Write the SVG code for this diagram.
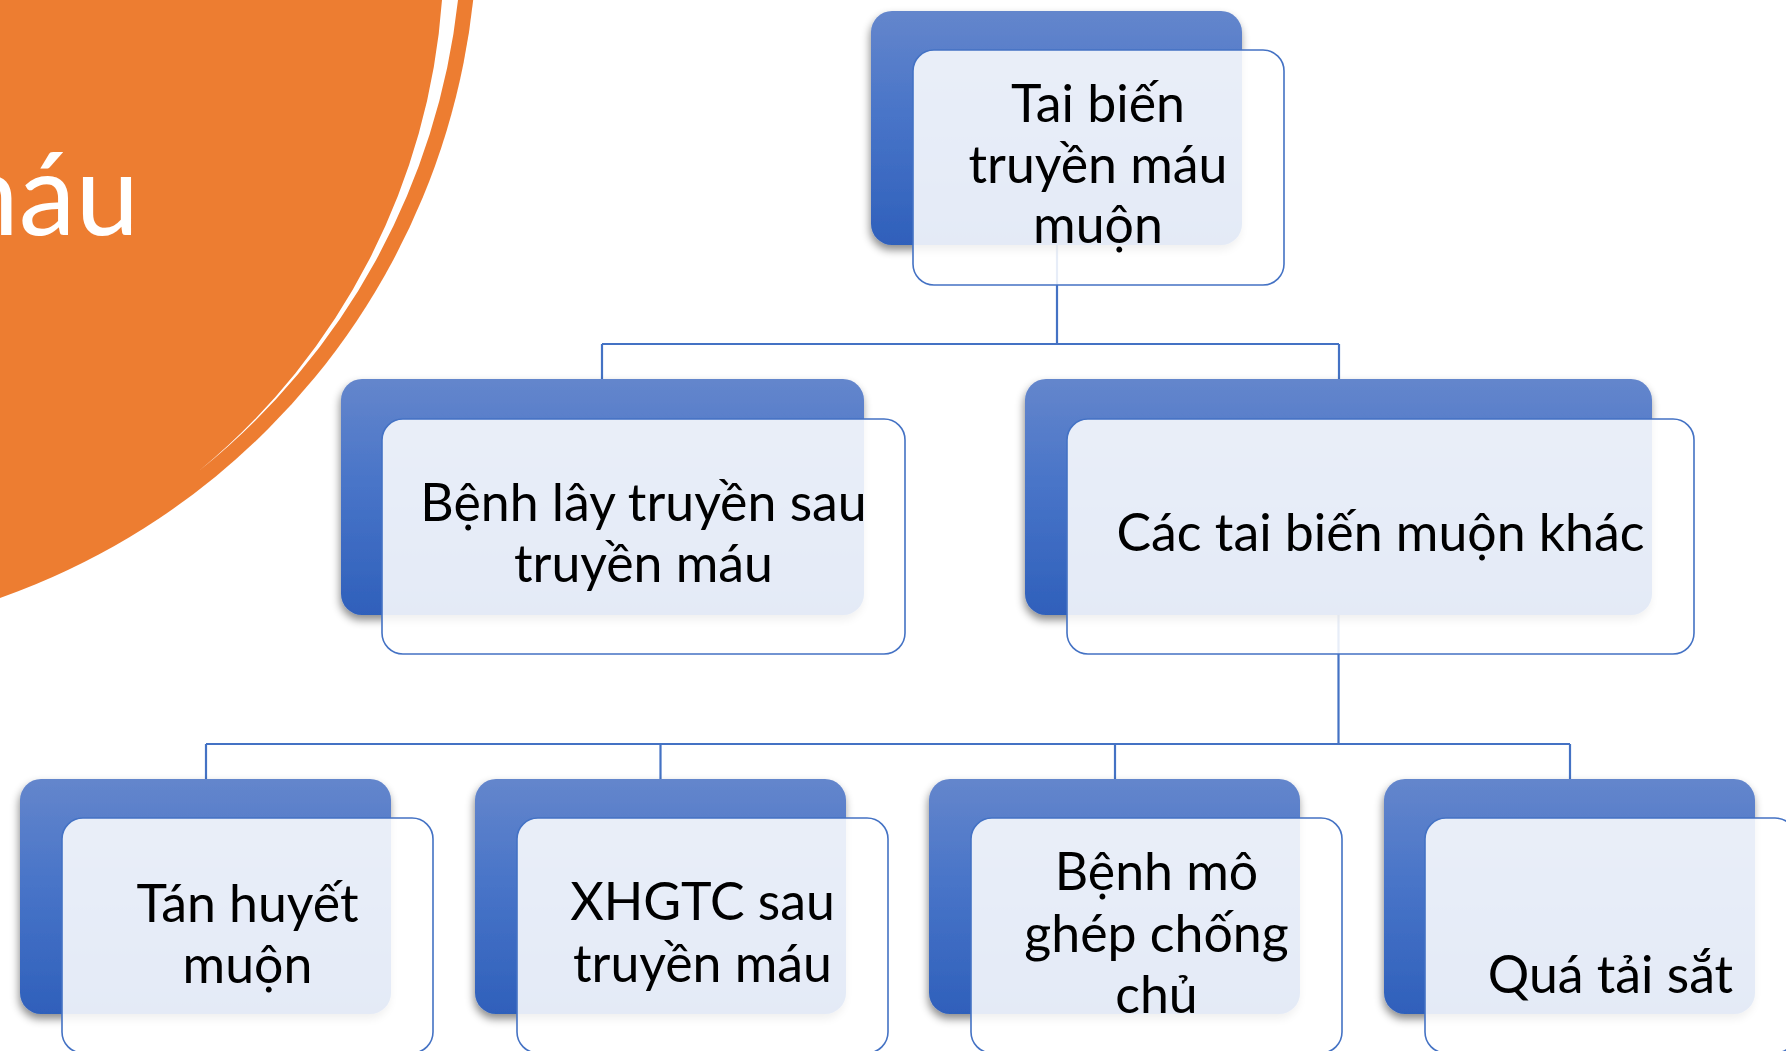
<svg xmlns="http://www.w3.org/2000/svg" width="1786" height="1051" viewBox="0 0 1786 1051">
<defs>
<linearGradient id="blueGrad" x1="0" y1="0" x2="0" y2="1">
<stop offset="0" stop-color="#6486CC"/>
<stop offset="0.45" stop-color="#4874C8"/>
<stop offset="1" stop-color="#2F60BB"/>
</linearGradient>
<filter id="shadow" x="-10%" y="-10%" width="120%" height="125%">
<feDropShadow dx="-1" dy="5" stdDeviation="4" flood-color="#000" flood-opacity="0.45"/>
</filter>
</defs>
<style>
.back{fill:url(#blueGrad);filter:url(#shadow);}
.front{fill:#FFFFFF;fill-opacity:0.87;stroke:#4472C4;stroke-width:1.6;}
.lbl{font-family:Lato,"Open Sans","Liberation Sans",sans-serif;font-size:51.8px;fill:#000;text-anchor:middle;}
.conn{fill:none;stroke:#4472C4;stroke-width:2.2;}
.title{font-family:Lato,"Open Sans","Liberation Sans",sans-serif;font-size:114px;fill:#FFFFFF;text-anchor:end;}
</style>
<rect width="1786" height="1051" fill="#FFFFFF"/>
<g id="background">
<circle cx="-238" cy="-76.5" r="715.3" fill="#ED7D31"/>
<path d="M458,0 A701,701 0 0 1 200,470 A672,672 0 0 0 442,0 Z" fill="#FFFFFF"/>
<text class="title" x="139" y="235">máu</text>
</g>
<g id="connectors">
<path class="conn" d="M1057,245 V344 M602,344 H1339 M602,344 V379 M1339,344 V379"/>
<path class="conn" d="M1338.5,615 V744 M206,744 H1570 M206,744 V779 M660.5,744 V779 M1115,744 V779 M1570,744 V779"/>
</g>
<g id="node-root">
<rect class="back" x="871" y="11" width="371" height="234" rx="21"/>
<rect class="front" x="913" y="50" width="371" height="235" rx="21"/>
<text class="lbl" x="1098" y="122">Tai biến</text>
<text class="lbl" x="1098" y="183">truyền máu</text>
<text class="lbl" x="1098" y="243">muộn</text>
</g>
<g id="node-benh-lay">
<rect class="back" x="341" y="379" width="523" height="236" rx="21"/>
<rect class="front" x="382" y="419" width="523" height="235" rx="21"/>
<text class="lbl" x="643.5" y="521">Bệnh lây truyền sau</text>
<text class="lbl" x="643.5" y="582">truyền máu</text>
</g>
<g id="node-cac-tai-bien">
<rect class="back" x="1025" y="379" width="627" height="236" rx="21"/>
<rect class="front" x="1067" y="419" width="627" height="235" rx="21"/>
<text class="lbl" x="1380.5" y="551">Các tai biến muộn khác</text>
</g>
<g id="node-tan-huyet">
<rect class="back" x="20" y="779" width="371" height="235" rx="21"/>
<rect class="front" x="62" y="818" width="371" height="235" rx="21"/>
<text class="lbl" x="247.5" y="922">Tán huyết</text>
<text class="lbl" x="247.5" y="983">muộn</text>
</g>
<g id="node-xhgtc">
<rect class="back" x="475" y="779" width="371" height="235" rx="21"/>
<rect class="front" x="517" y="818" width="371" height="235" rx="21"/>
<text class="lbl" x="702.5" y="920">XHGTC sau</text>
<text class="lbl" x="702.5" y="982">truyền máu</text>
</g>
<g id="node-benh-mo-ghep">
<rect class="back" x="929" y="779" width="371" height="235" rx="21"/>
<rect class="front" x="971" y="818" width="371" height="235" rx="21"/>
<text class="lbl" x="1156.5" y="890">Bệnh mô</text>
<text class="lbl" x="1156.5" y="952">ghép chống</text>
<text class="lbl" x="1156.5" y="1013">chủ</text>
</g>
<g id="node-qua-tai-sat">
<rect class="back" x="1384" y="779" width="371" height="235" rx="21"/>
<rect class="front" x="1425" y="818" width="371" height="235" rx="21"/>
<text class="lbl" x="1610.5" y="993">Quá tải sắt</text>
</g>
</svg>
